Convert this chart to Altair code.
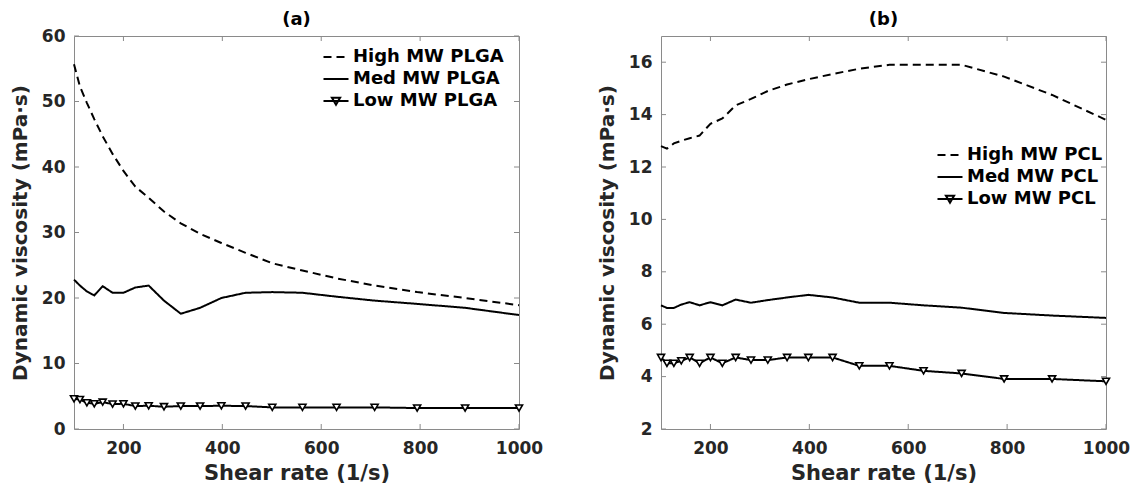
import altair as alt
import pandas as pd

# ---------------- data ----------------
shear = [100, 112, 126, 141, 158, 178, 200, 224, 251, 282, 316, 355, 398,
         447, 501, 562, 631, 708, 794, 891, 1000]

names_plga = ["High MW PLGA", "Med MW PLGA", "Low MW PLGA"]
high_plga = [55.7, 52.3, 49.8, 47.3, 44.7, 42.0, 39.4, 37.0, 35.3, 33.2, 31.4,
             29.8, 28.4, 26.9, 25.3, 24.2, 23.0, 21.9, 20.9, 20.0, 18.9]
med_plga = [22.8, 21.9, 21.0, 20.4, 21.8, 20.8, 20.8, 21.6, 21.9, 19.6, 17.6,
            18.5, 20.0, 20.8, 20.9, 20.8, 20.2, 19.6, 19.1, 18.5, 17.4]
low_plga = [4.6, 4.5, 4.0, 3.85, 4.1, 3.8, 3.85, 3.5, 3.55, 3.4, 3.5,
            3.5, 3.55, 3.5, 3.3, 3.3, 3.3, 3.3, 3.2, 3.2, 3.2]

names_pcl = ["High MW PCL", "Med MW PCL", "Low MW PCL"]
high_pcl = [12.8, 12.7, 12.9, 13.0, 13.1, 13.2, 13.65, 13.85, 14.35, 14.6, 14.9,
            15.15, 15.35, 15.55, 15.75, 15.9, 15.9, 15.9, 15.45, 14.75, 13.8]
med_pcl = [6.72, 6.62, 6.62, 6.75, 6.84, 6.72, 6.84, 6.72, 6.94, 6.82, 6.92,
           7.02, 7.12, 7.02, 6.82, 6.82, 6.72, 6.63, 6.43, 6.33, 6.24]
low_pcl = [4.73, 4.51, 4.51, 4.6, 4.73, 4.51, 4.73, 4.51, 4.73, 4.63, 4.63,
           4.73, 4.73, 4.73, 4.41, 4.41, 4.22, 4.12, 3.91, 3.91, 3.82]

x_ticks = [200, 400, 600, 800, 1000]
y_ticks_a = [0, 10, 20, 30, 40, 50, 60]
y_ticks_b = [2, 4, 6, 8, 10, 12, 14, 16]

# ---------------- styling ----------------
W, H = 445, 393
FONT = "DejaVu Sans"
GRAY = "#8a8a8a"
TXT = "#262626"
LINE_PATH = "M-1.667,0H1.667"
TRI_PATH = "M-1.667,0H1.667M-0.55,-0.45H0.55L0,0.5Z"
TICK = 5


def panel(title, names, series, ydomain, yticks, legend_x, legend_y, title_offset):
    n = len(shear)
    df = pd.DataFrame({
        "shear": shear * 3,
        "visc": series[0] + series[1] + series[2],
        "series": [names[0]] * n + [names[1]] * n + [names[2]] * n,
    })
    xs = alt.Scale(domain=[100, 1000], nice=False, zero=False)
    ys = alt.Scale(domain=ydomain, nice=False, zero=False)
    xax = alt.Axis(values=x_ticks, title="Shear rate (1/s)", ticks=False,
                   domain=False, grid=False, labelPadding=11, titlePadding=6,
                   labelFlush=False, format="d", titleFontSize=21)
    yax = alt.Axis(values=yticks, title="Dynamic viscosity (mPa·s)", ticks=False,
                   domain=False, grid=False, labelPadding=9, titlePadding=11,
                   labelFlush=False, format="d", titleFontSize=20)
    X = alt.X("shear:Q", scale=xs, axis=xax)
    Y = alt.Y("visc:Q", scale=ys, axis=yax)

    sym_expr = f'datum.value === "{names[2]}" ? "{TRI_PATH}" : "{LINE_PATH}"'
    legend = alt.Legend(
        title=None, orient="none", legendX=legend_x, legendY=legend_y,
        symbolType={"expr": sym_expr},
    )
    lines = alt.Chart(df).mark_line(strokeWidth=2, color="black").encode(
        x=X, y=Y,
        strokeDash=alt.StrokeDash(
            "series:N",
            scale=alt.Scale(domain=names, range=[[8, 5], [1, 0], [1, 0]]),
            legend=legend, sort=names),
    )
    points = alt.Chart(df).transform_filter(
        alt.datum.series == names[2]
    ).mark_point(shape="triangle-down", filled=True, fill="white",
                 stroke="black", strokeWidth=1.6, size=50, opacity=1).encode(x=X, y=Y)

    xt = pd.DataFrame({"shear": x_ticks})
    yt = pd.DataFrame({"visc": yticks})
    top_t = alt.Chart(xt).mark_rule(color=GRAY).encode(
        x=X, y=alt.value(0), y2=alt.value(TICK))
    bot_t = alt.Chart(xt).mark_rule(color=GRAY).encode(
        x=X, y=alt.value(H - TICK), y2=alt.value(H))
    left_t = alt.Chart(yt).mark_rule(color=GRAY).encode(
        y=Y, x=alt.value(0), x2=alt.value(TICK))
    right_t = alt.Chart(yt).mark_rule(color=GRAY).encode(
        y=Y, x=alt.value(W - TICK), x2=alt.value(W))

    return alt.layer(top_t, bot_t, left_t, right_t, lines, points).properties(
        width=W, height=H,
        title=alt.TitleParams(title, fontSize=18, font=FONT, fontWeight="bold",
                              color="black", offset=title_offset, frame="group"),
    )


pa = panel("(a)", names_plga, [high_plga, med_plga, low_plga], [0, 60], y_ticks_a,
           253, 12, -2)
pb = panel("(b)", names_pcl, [high_pcl, med_pcl, low_pcl], [2, 17], y_ticks_b,
           280, 110, 7)

chart = alt.hconcat(pa, pb, spacing=52).resolve_scale(
    strokeDash="independent"
).resolve_legend(strokeDash="independent").properties(
    padding={"left": 9, "top": 10, "right": 0, "bottom": 0}
).configure_view(stroke=GRAY, strokeWidth=1).configure_axis(
    labelFont=FONT, labelFontSize=17, labelFontWeight="bold", labelColor=TXT,
    titleFont=FONT, titleFontSize=20, titleFontWeight="bold", titleColor=TXT,
).configure_legend(
    labelFont=FONT, labelFontSize=18, labelFontWeight="bold", labelColor="black",
    symbolSize=225, symbolStrokeWidth=2, symbolStrokeColor="black",
    padding=0, rowPadding=4, labelOffset=8,
)

chart.save("out.html", embed_options={"renderer": "svg", "actions": False})
